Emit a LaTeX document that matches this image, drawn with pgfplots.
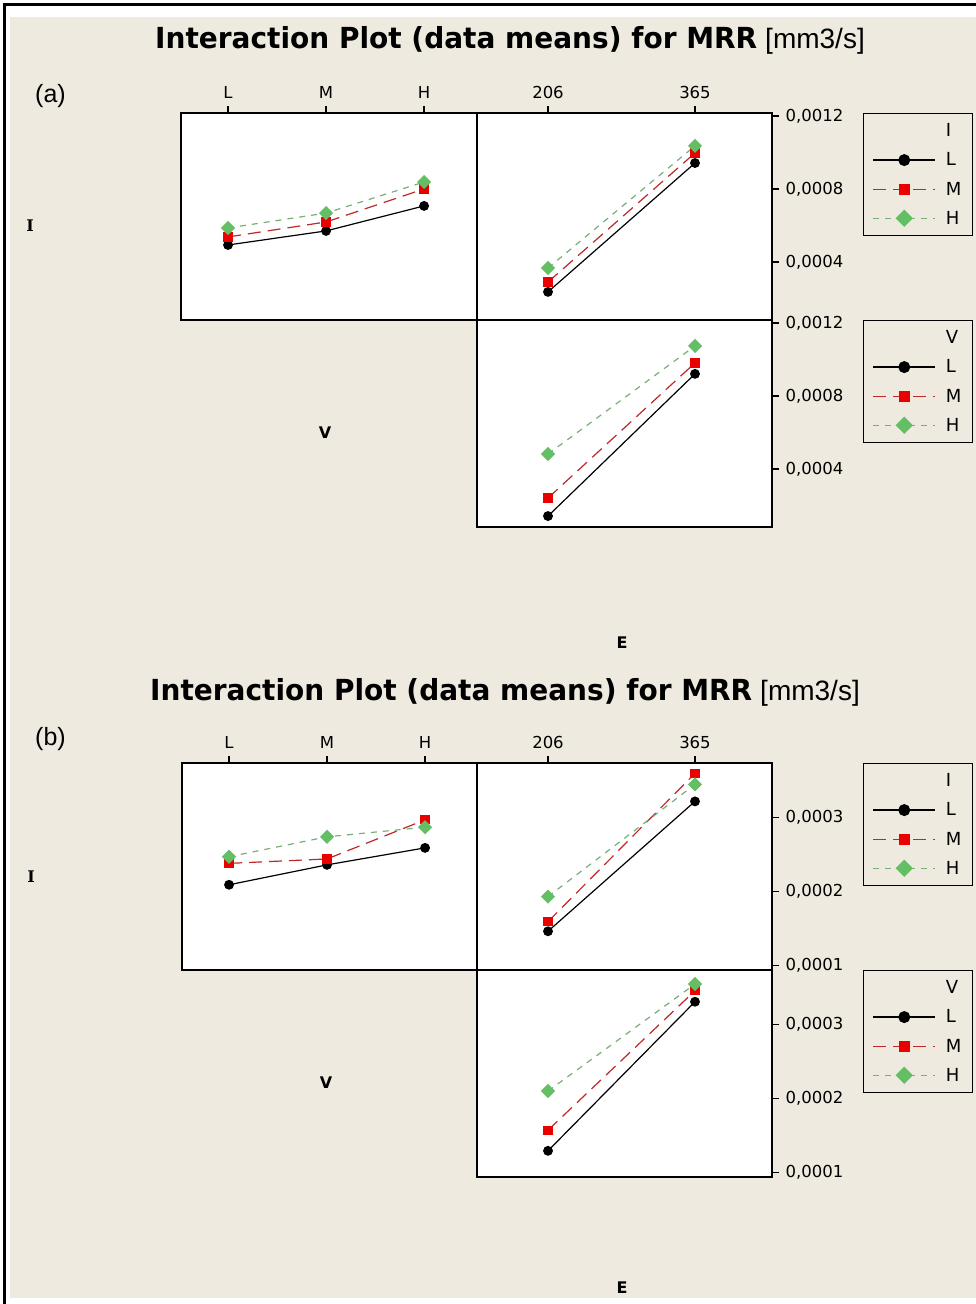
\documentclass[border=0pt]{standalone}
\usepackage{fontspec}
\setmainfont{DejaVu Sans}
\newfontfamily\arialfont{Liberation Sans}
\newfontfamily\serifbf{DejaVu Serif}
\usepackage{graphicx}
\usepackage{pgfplots}
\pgfplotsset{compat=1.18}
\definecolor{bgc}{RGB}{238,234,224}
\definecolor{mline}{RGB}{190,40,40}
\definecolor{mmark}{RGB}{235,0,0}
\definecolor{hline}{RGB}{120,175,120}
\definecolor{hmark}{RGB}{100,190,100}
\newcommand\tickfont{\fontsize{16.5}{19}\selectfont}
\newcommand\legfont{\fontsize{18}{21}\selectfont}
\newcommand\rowfont{\fontsize{16}{19}\selectfont\bfseries}
\newcommand\titlefont{\fontsize{29}{32}\selectfont\bfseries}

\pgfplotsset{
  panel/.style={scale only axis, anchor=north west,
    axis line style={line width=1.4pt},
    axis background/.style={fill=white},
    tick style={line width=1.2pt, black},
    tick align=outside, major tick length=7pt,
    tick label style={font=\tickfont},
    scaled y ticks=false, scaled x ticks=false,
    xticklabel style={yshift=4pt},
    yticklabel style={xshift=3pt},
    clip=false},
  vaxis/.style={panel, xmin=-0.48, xmax=2.54, xtick={0,1,2}, xticklabels={L,M,H},
    xtick pos=right, xticklabel pos=right, ytick=\empty, width=296pt, height=207pt},
  eaxis/.style={panel, xmin=129.2, xmax=448.3, width=295pt, height=207pt,
    ytick pos=right, yticklabel pos=right},
  etop/.style={xtick={206,365}, xticklabels={206,365}, xtick pos=right, xticklabel pos=right},
  ebot/.style={xtick=\empty},
  yA/.style={ymin=0.000082, ymax=0.001216, ytick={0.0004,0.0008,0.0012}, yticklabels={{0,0004},{0,0008},{0,0012}}},
  yB/.style={ymin=0.0000935, ymax=0.000374, ytick={0.0001,0.0002,0.0003}, yticklabels={{0,0001},{0,0002},{0,0003}}},
  sL/.style={black, line width=1.2pt, mark=*, mark size=4.3pt, mark options={solid}},
  sM/.style={mline, line width=1.2pt, dash pattern=on 13pt off 7pt, mark=square*, mark size=4pt, mark options={solid, draw=mmark, fill=mmark}},
  sH/.style={hline, line width=1.2pt, dash pattern=on 6pt off 6pt, mark=square*, mark size=4.4pt, mark options={solid, rotate=45, draw=hmark, fill=hmark}},
  leg/.style={legend cell align=left,
    legend style={at={(1.3085,1)}, anchor=north west, draw=black, line width=1.3pt, fill=none,
      font=\legfont, inner xsep=9pt, inner ysep=8pt, row sep=10.5pt,
      /tikz/every odd column/.append style={column sep=8pt}},
    legend image code/.code={\draw[mark repeat=2, mark phase=2, ##1, every mark/.append style={scale=1.25}] plot coordinates {(0pt,0pt) (31pt,0pt) (62pt,0pt)};}},
}

\begin{document}
\begin{tikzpicture}
\useasboundingbox (0,0) rectangle (976pt,-1304pt);
\fill[white] (0,0) rectangle (976pt,-1304pt);
\fill[bgc] (10pt,-17pt) rectangle (976pt,-1298pt);
\draw[black, line width=3pt] (4.5pt,-1304pt) -- (4.5pt,-4.5pt) -- (976pt,-4.5pt);

% ---------- panel (a) ----------
\node[anchor=base west, inner sep=0] at (155pt,-48pt) {\resizebox{602pt}{\height}{\titlefont Interaction Plot (data means) for MRR}\hspace{8pt}{\arialfont\fontsize{28}{30}\selectfont [mm3/s]}};
\node[anchor=base west, inner sep=0] at (35pt,-102pt) {\arialfont\fontsize{25}{28}\selectfont (a)};
\node[font=\rowfont] at (30pt,-226pt) {\serifbf I};
\node[font=\rowfont] at (325pt,-433pt) {V};
\node[font=\rowfont] at (622pt,-643pt) {E};

\begin{axis}[yA, vaxis, at={(181pt,-113pt)}]
\addplot[sL] coordinates {(0,0.000493) (1,0.000570) (2,0.000707)};
\addplot[sM] coordinates {(0,0.000537) (1,0.000619) (2,0.000800)};
\addplot[sH] coordinates {(0,0.000586) (1,0.000668) (2,0.000838)};
\end{axis}

\begin{axis}[eaxis, etop, yA, leg, at={(477pt,-113pt)}]
\addlegendimage{empty legend}\addlegendentry{I}
\addplot[sL] coordinates {(206,0.000236) (365,0.000942)}; \addlegendentry{L}
\addplot[sM] coordinates {(206,0.000290) (365,0.000997)}; \addlegendentry{M}
\addplot[sH] coordinates {(206,0.000367) (365,0.001036)}; \addlegendentry{H}
\end{axis}

\begin{axis}[eaxis, ebot, yA, leg, at={(477pt,-320pt)}]
\addlegendimage{empty legend}\addlegendentry{V}
\addplot[sL] coordinates {(206,0.000142) (365,0.000921)}; \addlegendentry{L}
\addplot[sM] coordinates {(206,0.000241) (365,0.000981)}; \addlegendentry{M}
\addplot[sH] coordinates {(206,0.000482) (365,0.001074)}; \addlegendentry{H}
\end{axis}

% ---------- panel (b) ----------
\node[anchor=base west, inner sep=0] at (150pt,-700pt) {\resizebox{602pt}{\height}{\titlefont Interaction Plot (data means) for MRR}\hspace{8pt}{\arialfont\fontsize{28}{30}\selectfont [mm3/s]}};
\node[anchor=base west, inner sep=0] at (35pt,-745pt) {\arialfont\fontsize{25}{28}\selectfont (b)};
\node[font=\rowfont] at (31pt,-877pt) {\serifbf I};
\node[font=\rowfont] at (326pt,-1083pt) {V};
\node[font=\rowfont] at (622pt,-1288pt) {E};

\begin{axis}[yB, vaxis, width=295pt, xmax=2.53, at={(182pt,-763pt)}]
\addplot[sL] coordinates {(0,0.000209) (1,0.000236) (2,0.000259)};
\addplot[sM] coordinates {(0,0.000238) (1,0.000244) (2,0.000297)};
\addplot[sH] coordinates {(0,0.000247) (1,0.000274) (2,0.000287)};
\end{axis}

\begin{axis}[eaxis, etop, yB, leg, at={(477pt,-763pt)}]
\addlegendimage{empty legend}\addlegendentry{I}
\addplot[sL] coordinates {(206,0.000146) (365,0.000322)}; \addlegendentry{L}
\addplot[sM] coordinates {(206,0.000159) (365,0.000360)}; \addlegendentry{M}
\addplot[sH] coordinates {(206,0.000193) (365,0.000345)}; \addlegendentry{H}
\end{axis}

\begin{axis}[eaxis, ebot, yB, leg, at={(477pt,-970pt)}]
\addlegendimage{empty legend}\addlegendentry{V}
\addplot[sL] coordinates {(206,0.000129) (365,0.000331)}; \addlegendentry{L}
\addplot[sM] coordinates {(206,0.000157) (365,0.000346)}; \addlegendentry{M}
\addplot[sH] coordinates {(206,0.000210) (365,0.000355)}; \addlegendentry{H}
\end{axis}
\end{tikzpicture}
\end{document}
